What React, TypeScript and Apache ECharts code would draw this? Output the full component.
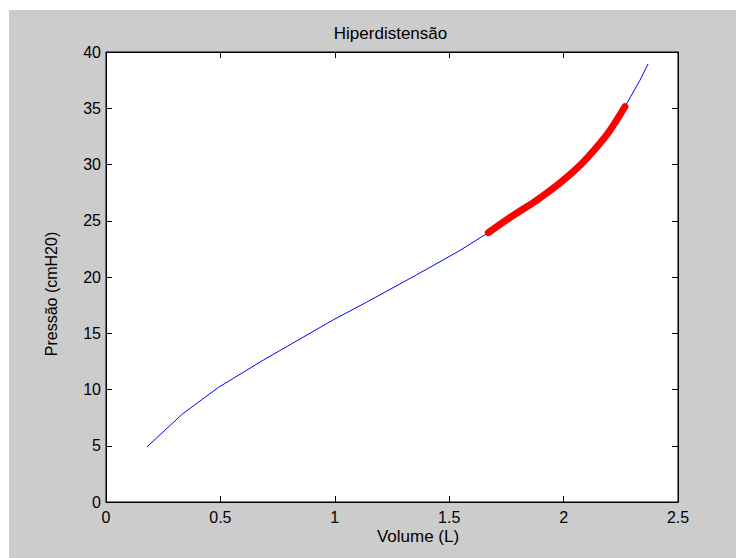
import React, { useEffect, useRef } from "react";
import * as echarts from "echarts";

// Blue curve: Volume (L) vs Pressão (cmH20)
const blueVolume = [0.179, 0.335, 0.491, 0.688, 0.994, 1.139, 1.358, 1.547, 1.671, 1.882, 2.072, 2.203, 2.268, 2.334, 2.369];
const bluePressure = [4.9, 7.84, 10.18, 12.62, 16.2, 17.76, 20.2, 22.36, 23.94, 26.82, 29.93, 33.05, 35.13, 37.5, 38.93];

// Red highlighted segment (hyperdistension)
const redVolume = [1.671, 1.78, 1.882, 1.984, 2.072, 2.145, 2.203, 2.268];
const redPressure = [23.94, 25.48, 26.82, 28.36, 29.93, 31.56, 33.05, 35.13];

const xTicks = { min: 0, max: 2.5, interval: 0.5 };
const yTicks = { min: 0, max: 40, interval: 5 };

const FONT = "'Liberation Sans', Arial, Helvetica, sans-serif";

export default function App() {
  const ref = useRef<HTMLDivElement>(null);

  useEffect(() => {
    if (!ref.current) return;
    const chart = echarts.init(ref.current, undefined, { renderer: "svg" });
    const tickCommon = { show: true, inside: true, length: 6, lineStyle: { color: "#000", width: 1 } };
    const lineCommon = { show: true, onZero: false, lineStyle: { color: "#000", width: 1 } };
    const labelCommon = { color: "#000", fontSize: 16, fontFamily: FONT };
    chart.setOption({
      animation: false,
      backgroundColor: "#cccccc",
      grid: {
        left: 97,
        top: 42,
        right: 58,
        bottom: 56,
        show: true,
        backgroundColor: "#ffffff",
        borderColor: "#000",
        borderWidth: 1,
      },
      xAxis: [
        {
          type: "value",
          ...xTicks,
          position: "bottom",
          axisLine: lineCommon,
          axisTick: tickCommon,
          splitLine: { show: false },
          axisLabel: { ...labelCommon, margin: 7 },
        },
        {
          type: "value",
          ...xTicks,
          position: "top",
          axisLine: lineCommon,
          axisTick: tickCommon,
          splitLine: { show: false },
          axisLabel: { show: false },
        },
      ],
      yAxis: [
        {
          type: "value",
          ...yTicks,
          position: "left",
          axisLine: lineCommon,
          axisTick: tickCommon,
          splitLine: { show: false },
          axisLabel: { ...labelCommon, margin: 5 },
        },
        {
          type: "value",
          ...yTicks,
          position: "right",
          axisLine: lineCommon,
          axisTick: tickCommon,
          splitLine: { show: false },
          axisLabel: { show: false },
        },
      ],
      graphic: [
        {
          type: "text",
          x: 381.5,
          y: 23,
          style: {
            text: "Hiperdistensão",
            fill: "#000",
            font: `17px ${FONT}`,
            textAlign: "center",
            textVerticalAlign: "middle",
          },
        },
        {
          type: "text",
          x: 409,
          y: 526,
          style: {
            text: "Volume (L)",
            fill: "#000",
            font: `17px ${FONT}`,
            textAlign: "center",
            textVerticalAlign: "middle",
          },
        },
        {
          type: "text",
          x: 42.5,
          y: 284,
          rotation: Math.PI / 2,
          style: {
            text: "Pressão (cmH20)",
            fill: "#000",
            font: `16px ${FONT}`,
            textAlign: "center",
            textVerticalAlign: "middle",
          },
        },
      ],
      series: [
        {
          type: "line",
          xAxisIndex: 0,
          yAxisIndex: 0,
          data: blueVolume.map((v, i) => [v, bluePressure[i]]),
          showSymbol: false,
          symbol: "none",
          lineStyle: { color: "#0000ff", width: 1 },
          z: 2,
        },
        {
          type: "line",
          xAxisIndex: 0,
          yAxisIndex: 0,
          data: redVolume.map((v, i) => [v, redPressure[i]]),
          smooth: 0.3,
          showSymbol: false,
          symbol: "none",
          lineStyle: { color: "#ff0000", width: 7, cap: "round", join: "round" },
          z: 3,
        },
      ],
    });
    return () => chart.dispose();
  }, []);

  return (
    <div style={{ position: "absolute", left: 0, top: 0, width: 736, height: 558, background: "#ffffff" }}>
      <div ref={ref} style={{ position: "absolute", left: 9, top: 10, width: 727, height: 548 }} />
    </div>
  );
}
